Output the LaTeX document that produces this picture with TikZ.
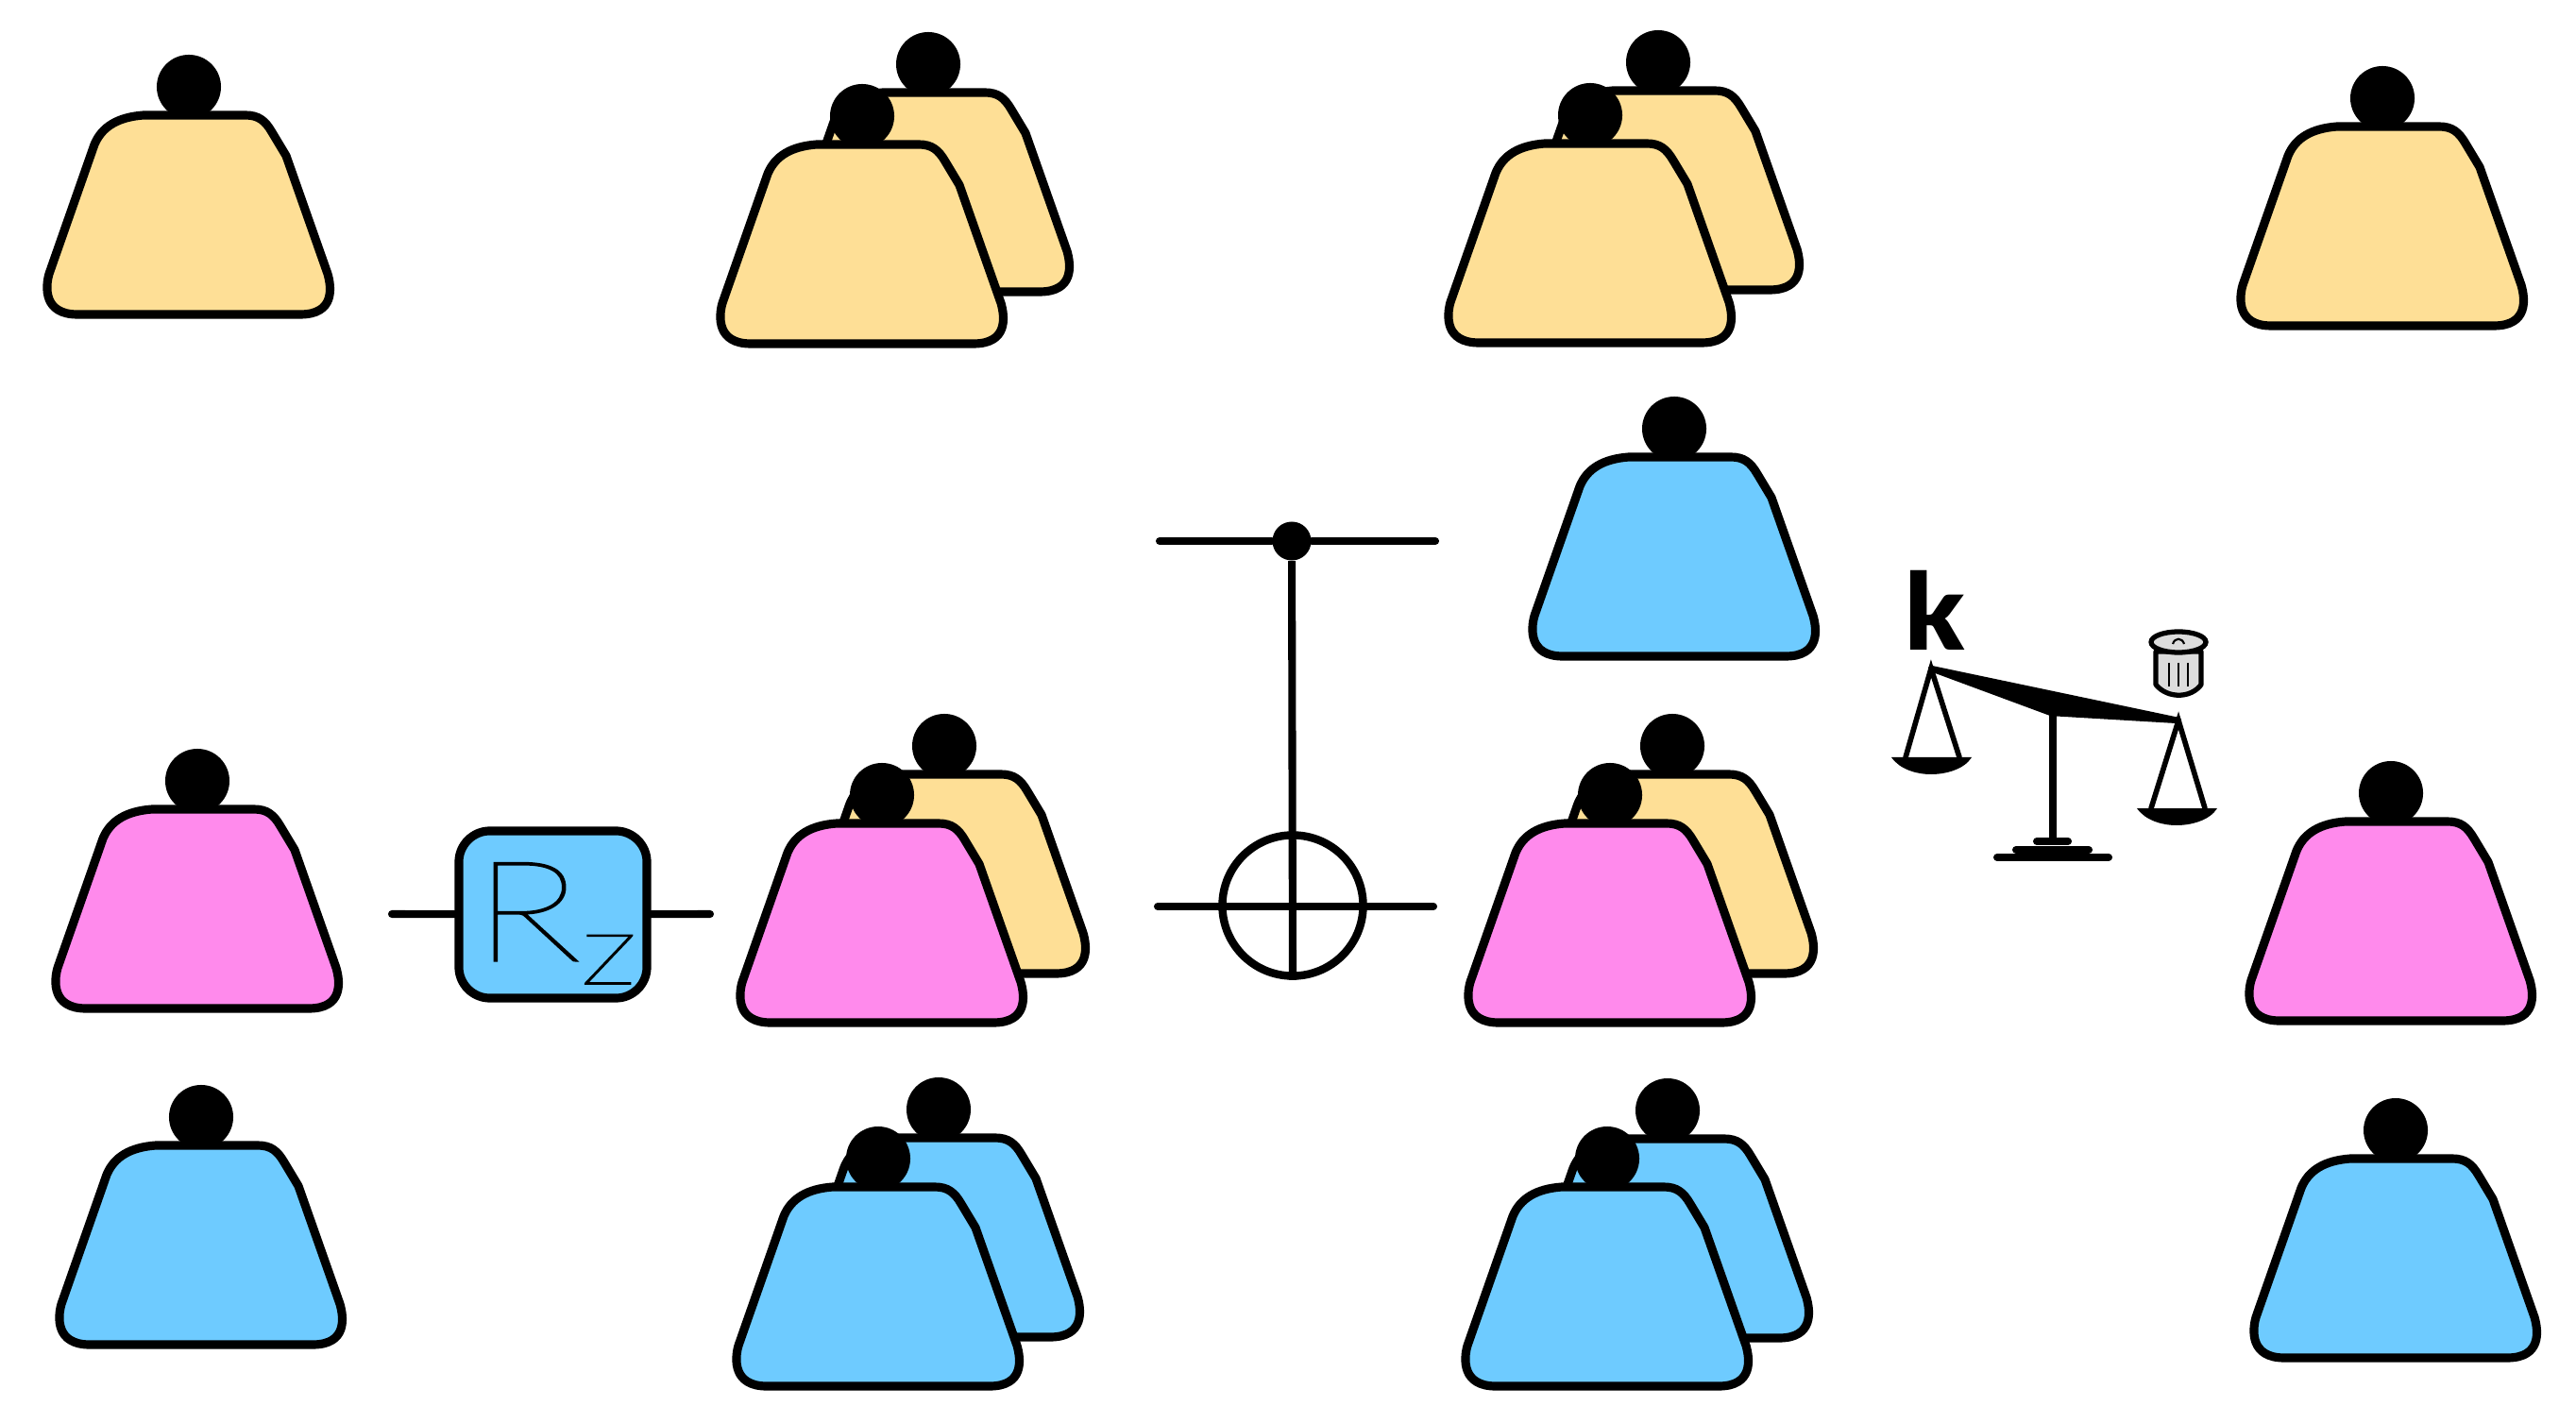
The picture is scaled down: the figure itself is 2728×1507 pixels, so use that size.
\documentclass[tikz,border=0pt]{standalone}
\usepackage{fontspec}
\newfontfamily\thinhand[FakeStretch=1.3,FakeBold=1.5]{Lato Thin}
\newfontfamily\boldhand{Lato Black}
\definecolor{weightyellow}{RGB}{254,223,150}
\definecolor{weightblue}{RGB}{110,203,255}
\definecolor{weightpink}{RGB}{255,138,236}
\definecolor{bingray}{RGB}{220,220,220}
\tikzset{
  weightline/.style={draw=black, line width=2.6pt, line join=round},
  knob/.style={circle, fill=black, inner sep=0pt, minimum size=0.68cm},
  wire/.style={line width=2.3pt, line cap=round},
  scaleline/.style={line width=1.6pt, line cap=round},
  gatebox/.style={draw=black, fill=weightblue, line width=2.6pt, rounded corners=0.33cm,
    minimum width=1.99cm, minimum height=1.77cm, inner sep=0pt},
  ctrldot/.style={circle, fill=black, inner sep=0pt, minimum size=0.41cm},
  targetring/.style={circle, draw=black, line width=2.4pt, inner sep=0pt, minimum size=1.49cm}
}
\newcommand{\weight}[4]{
  \node[knob] (#1) at (#2,#3) {};
  \draw[weightline, fill=#4, shift={(#2,#3)}] (-48,30) -- (60,30)
    .. controls (74,30) and (81,36) .. (88,48) -- (103,73) -- (147,198)
    .. controls (151,212) and (155,241) .. (118,241) -- (-118,241)
    .. controls (-154,241) and (-152,212) .. (-148,198) -- (-100,61)
    .. controls (-92,42) and (-75,32) .. (-48,30) -- cycle;
}
\begin{document}
\begin{tikzpicture}[x=0.01cm, y=-0.01cm]
  \useasboundingbox (0,0) rectangle (2728,1507);

  \weight{ka}{200}{92}{weightyellow}
  \weight{kb}{983}{68}{weightyellow}
  \weight{kc}{913}{123}{weightyellow}
  \weight{kd}{1756}{66}{weightyellow}
  \weight{ke}{1684}{122}{weightyellow}
  \weight{kf}{2523}{104}{weightyellow}

  \weight{kg}{1773}{454}{weightblue}

  \weight{kh}{209}{827}{weightpink}
  \weight{ki}{1000}{790}{weightyellow}
  \weight{kj}{934}{842}{weightpink}
  \weight{kk}{1771}{790}{weightyellow}
  \weight{kl}{1705}{842}{weightpink}
  \weight{km}{2532}{840}{weightpink}

  \weight{kn}{213}{1183}{weightblue}
  \weight{ko}{994}{1175}{weightblue}
  \weight{kp}{930}{1227}{weightblue}
  \weight{kq}{1766}{1176}{weightblue}
  \weight{kr}{1702}{1227}{weightblue}
  \weight{ks}{2537}{1197}{weightblue}

  \node[gatebox] (rz) at (585.5,968.5) {};
  \node (rzlabel) at (588,978) {\thinhand\fontsize{42}{42}\selectfont R\raisebox{-7pt}{\fontsize{30}{30}\selectfont z}};
  \coordinate (rzin) at (415,968);
  \coordinate (rzout) at (752,968);
  \draw[wire] (rzin) -- (rz);
  \draw[wire] (rz) -- (rzout);

  \coordinate (ctrlleft) at (1228,573);
  \coordinate (ctrlright) at (1520,573);
  \coordinate (targetleft) at (1226,960);
  \coordinate (targetright) at (1518,960);
  \node[ctrldot] (ctrl) at (1368,573) {};
  \node[targetring] (target) at (1369,959) {};
  \draw[wire] (ctrlleft) -- (ctrl);
  \draw[wire] (ctrl) -- (ctrlright);
  \draw[wire] (targetleft) -- (targetright);
  \draw[line width=2.3pt] (ctrl) -- (target.south);

  \node (kay) at (2049,646) {\boldhand\fontsize{32}{32}\selectfont k};

  \fill[line width=1.8pt, line join=round, draw=black] (2045,708) -- (2307,763) -- (2172,755) -- cycle;
  \draw[wire] (2174,755) -- (2174,890);
  \draw[wire] (2157,891) -- (2190,891);
  \draw[wire] (2135,900) -- (2212,900);
  \draw[wire] (2115,908) -- (2233,908);
  \draw[scaleline] (2018,802) -- (2045,708) -- (2075,802);
  \draw[scaleline] (2278,856) -- (2307,763) -- (2335,856);
  \fill (2003,802) -- (2088,802) .. controls (2080,815) and (2060,820) .. (2045,820)
    .. controls (2030,820) and (2012,815) .. (2003,802) -- cycle;
  \fill (2263,856) -- (2348,856) .. controls (2340,869) and (2320,874) .. (2305,874)
    .. controls (2290,874) and (2272,869) .. (2263,856) -- cycle;

  \draw[fill=bingray, line width=1.5pt, line join=round] (2283,690) -- (2283,725)
    .. controls (2295,740) and (2320,740) .. (2331,725) -- (2331,690) -- cycle;
  \draw[line width=0.4pt] (2297,702) -- (2297,727);
  \draw[line width=0.4pt] (2307,702) -- (2307,727);
  \draw[line width=0.4pt] (2317,702) -- (2317,727);
  \draw[fill=bingray, line width=1.5pt] (2307,680) ellipse (29 and 11);
  \draw[line width=0.6pt] (2301,682) .. controls (2303,675) and (2311,675) .. (2313,682);
\end{tikzpicture}
\end{document}
